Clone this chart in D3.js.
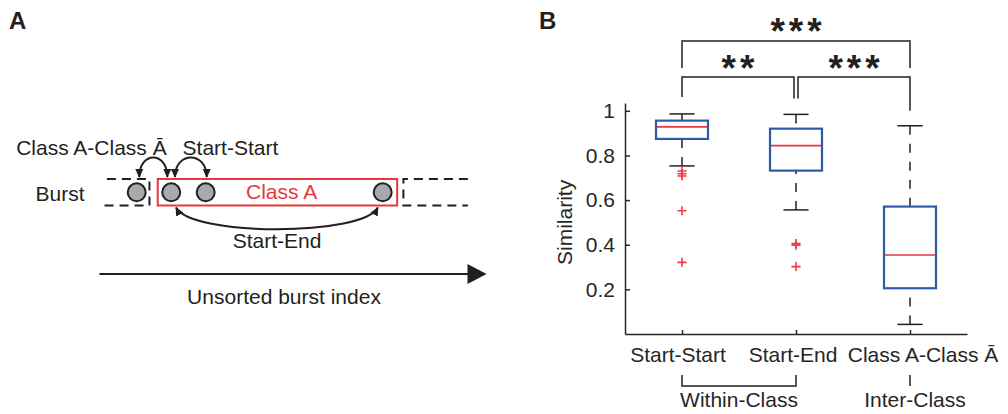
<!DOCTYPE html>
<html>
<head>
<meta charset="utf-8">
<script src="https://cdn.jsdelivr.net/npm/d3@7/dist/d3.min.js"></script>
<style>
  body { margin: 0; background: #fff; }
  svg { display: block; }
  text { font-family: "Liberation Sans", Arial, sans-serif; }
</style>
</head>
<body>
<svg id="fig" width="1008" height="414"></svg>
<script>
// ---------- Panel B data: similarity per comparison type ----------
const categories = ["Start-Start", "Start-End", "Class A-Class Ā"];
const whiskerLow = [0.753, 0.556, 0.043];
const q1 = [0.874, 0.732, 0.205];
const medians = [0.928, 0.844, 0.354];
const q3 = [0.956, 0.920, 0.571];
const whiskerHigh = [0.986, 0.984, 0.933];
const outliers = [
  [0.730, 0.718, 0.708, 0.552, 0.321],
  [0.405, 0.398, 0.302],
  []
];
const yTicks = [0.2, 0.4, 0.6, 0.8, 1];
const labelShift = [-4, -3, 13];
// significance brackets: pair of category indices, stars, bracket height (similarity units)
const comparisons = [
  { a: 0, b: 1, stars: "**", level: 1.152 },
  { a: 1, b: 2, stars: "***", level: 1.152 },
  { a: 0, b: 2, stars: "***", level: 1.313 }
];
// category groupings under the axis
const groupNames = ["Within-Class", "Inter-Class"];
const groupMembers = [[0, 1], [2]];

// ---------- Panel A schematic: bursts along an unsorted index ----------
const burstIdx = [1, 2, 3, 8.13];          // burst circles
const prevSpan = [0.02, 1.37];             // preceding (other class) segment
const classSpan = [1.61, 8.55];            // Class A segment
const nextSpan = [8.73, 10.6];             // following segment
const indexSpan = [-0.08, 11.14];          // index arrow
const arcsTop = [
  { from: 1.075, to: 1.887 },              // Class A - Class Ā
  { from: 2.11, to: 3.03 }                 // Start - Start
];
const arcBottom = { from: 2.14, to: 7.99 }; // Start - End

const ink = "#231f20";
const red = "#e8373c";
const blue = "#2c5ca8";

const svg = d3.select("#fig");

// arrow head marker
const defs = svg.append("defs");
defs.append("marker")
  .attr("id", "head").attr("viewBox", "0 0 10 10")
  .attr("refX", 9).attr("refY", 5)
  .attr("markerWidth", 9).attr("markerHeight", 9)
  .attr("markerUnits", "userSpaceOnUse")
  .attr("orient", "auto-start-reverse")
  .append("path").attr("d", "M0,0.5 L10,5 L0,9.5 Z").attr("fill", ink);

// panel letters
svg.append("text").attr("x", 9).attr("y", 29).attr("font-size", 24)
  .attr("font-weight", "bold").attr("fill", ink).text("A");
svg.append("text").attr("x", 539).attr("y", 29).attr("font-size", 24)
  .attr("font-weight", "bold").attr("fill", ink).text("B");

// ================= Panel A =================
const xA = d3.scaleLinear().domain([1, 2]).range([136.7, 171.2]);
const rowTop = 179, rowBot = 205.5, rowMid = 192.3;
const gA = svg.append("g");

// neighbouring segments (dashed, open at outer side)
gA.append("path")
  .attr("d", `M${xA(prevSpan[0]) + 4},${rowTop} H${xA(prevSpan[1])} V${rowBot} H${xA(prevSpan[0])}`)
  .attr("fill", "none").attr("stroke", ink).attr("stroke-width", 2)
  .attr("stroke-dasharray", "9,6");
gA.append("path")
  .attr("d", `M${xA(nextSpan[1])},${rowTop} H${xA(nextSpan[0])} V${rowBot} H${xA(nextSpan[1])}`)
  .attr("fill", "none").attr("stroke", ink).attr("stroke-width", 2)
  .attr("stroke-dasharray", "9,6");

// Class A segment
gA.append("rect")
  .attr("x", xA(classSpan[0])).attr("y", rowTop)
  .attr("width", xA(classSpan[1]) - xA(classSpan[0])).attr("height", rowBot - rowTop)
  .attr("fill", "none").attr("stroke", red).attr("stroke-width", 2);
gA.append("text").attr("x", xA(5.2)).attr("y", 199).attr("text-anchor", "middle")
  .attr("font-size", 21).attr("fill", red).text("Class A");

// bursts
gA.selectAll("circle.burst").data(burstIdx).join("circle")
  .attr("class", "burst")
  .attr("cx", d => xA(d)).attr("cy", rowMid).attr("r", 9)
  .attr("fill", "#a7a9ac").attr("stroke", ink).attr("stroke-width", 2);

// comparison arcs
gA.selectAll("path.arcTop").data(arcsTop).join("path")
  .attr("class", "arcTop")
  .attr("d", d => `M${xA(d.from)},${rowTop - 2} C${xA(d.from)},${rowTop - 28} ${xA(d.to)},${rowTop - 28} ${xA(d.to)},${rowTop - 2}`)
  .attr("fill", "none").attr("stroke", ink).attr("stroke-width", 2)
  .attr("marker-start", "url(#head)").attr("marker-end", "url(#head)");
gA.append("path")
  .attr("d", `M${xA(arcBottom.from)},${rowBot + 2} C${xA(arcBottom.from) + 15},${rowBot + 31} ${xA(arcBottom.to) - 15},${rowBot + 31} ${xA(arcBottom.to)},${rowBot + 2}`)
  .attr("fill", "none").attr("stroke", ink).attr("stroke-width", 2)
  .attr("marker-start", "url(#head)").attr("marker-end", "url(#head)");

// labels
gA.append("text").attr("x", xA(1.87)).attr("y", 155).attr("text-anchor", "end")
  .attr("font-size", 21).attr("fill", ink).text("Class A-Class Ā");
gA.append("text").attr("x", xA(2.33)).attr("y", 155)
  .attr("font-size", 21).attr("fill", ink).text("Start-Start");
gA.append("text").attr("x", xA(-1.93)).attr("y", 200.5)
  .attr("font-size", 21).attr("fill", ink).text("Burst");
gA.append("text").attr("x", xA(5.07)).attr("y", 248).attr("text-anchor", "middle")
  .attr("font-size", 21).attr("fill", ink).text("Start-End");

// index axis arrow
gA.append("line")
  .attr("x1", xA(indexSpan[0])).attr("x2", xA(indexSpan[1]) - 16)
  .attr("y1", 274).attr("y2", 274).attr("stroke", ink).attr("stroke-width", 2);
gA.append("path")
  .attr("d", `M${xA(indexSpan[1])},274 L${xA(indexSpan[1]) - 19},264 L${xA(indexSpan[1]) - 19},284 Z`)
  .attr("fill", ink);
gA.append("text").attr("x", xA(5.27)).attr("y", 304).attr("text-anchor", "middle")
  .attr("font-size", 21).attr("fill", ink).text("Unsorted burst index");

// ================= Panel B =================
const axisInk = "#262626";
const x = d3.scaleLinear().domain([0.5, 3.5]).range([625, 967]);
const y = d3.scaleLinear().domain([0, 1.035]).range([334, 103]);
const boxHalf = 0.228, capHalf = 0.11;
const gB = svg.append("g");

// axes
const yAxis = gB.append("g").attr("transform", `translate(${x.range()[0]},0)`)
  .call(d3.axisLeft(y).tickValues(yTicks).tickFormat(d3.format("~g"))
    .tickSize(-5).tickSizeOuter(0).tickPadding(10));
const xAxis = gB.append("g").attr("transform", `translate(0,${y.range()[0]})`)
  .call(d3.axisBottom(x).tickValues(categories.map((c, i) => i + 1))
    .tickFormat("").tickSize(-4).tickSizeOuter(0));
[yAxis, xAxis].forEach(g => {
  g.select(".domain").attr("stroke", axisInk).attr("stroke-width", 1.5);
  g.selectAll(".tick line").attr("stroke", axisInk).attr("stroke-width", 1.5);
  g.selectAll(".tick text").attr("font-size", 21).attr("fill", axisInk)
    .attr("font-family", "Liberation Sans, Arial, sans-serif");
});

gB.append("text")
  .attr("transform", `translate(572,${y(0.5)}) rotate(-90)`)
  .attr("text-anchor", "middle").attr("font-size", 21).attr("fill", axisInk)
  .text("Similarity");

// category labels
gB.selectAll("text.cat").data(categories).join("text")
  .attr("class", "cat")
  .attr("x", (d, i) => x(i + 1) + labelShift[i]).attr("y", y.range()[0] + 28)
  .attr("text-anchor", "middle").attr("font-size", 21).attr("fill", axisInk)
  .text(d => d);

// boxes
const idx = categories.map((c, i) => i);
const boxes = gB.selectAll("g.box").data(idx).join("g").attr("class", "box");
// whiskers (dashed)
boxes.append("line")
  .attr("x1", i => x(i + 1)).attr("x2", i => x(i + 1))
  .attr("y1", i => y(whiskerHigh[i])).attr("y2", i => y(q3[i]))
  .attr("stroke", ink).attr("stroke-width", 1.5).attr("stroke-dasharray", "9,9");
boxes.append("line")
  .attr("x1", i => x(i + 1)).attr("x2", i => x(i + 1))
  .attr("y1", i => y(whiskerLow[i])).attr("y2", i => y(q1[i]))
  .attr("stroke", ink).attr("stroke-width", 1.5).attr("stroke-dasharray", "9,9");
// whisker caps
[whiskerHigh, whiskerLow].forEach(arr => {
  boxes.append("line")
    .attr("x1", i => x(i + 1 - capHalf)).attr("x2", i => x(i + 1 + capHalf))
    .attr("y1", i => y(arr[i])).attr("y2", i => y(arr[i]))
    .attr("stroke", ink).attr("stroke-width", 1.5);
});
// box body
boxes.append("rect")
  .attr("x", i => x(i + 1 - boxHalf)).attr("width", i => x(i + 1 + boxHalf) - x(i + 1 - boxHalf))
  .attr("y", i => y(q3[i])).attr("height", i => y(q1[i]) - y(q3[i]))
  .attr("fill", "none").attr("stroke", blue).attr("stroke-width", 2.2);
// median
boxes.append("line")
  .attr("x1", i => x(i + 1 - boxHalf) + 1).attr("x2", i => x(i + 1 + boxHalf) - 1)
  .attr("y1", i => y(medians[i])).attr("y2", i => y(medians[i]))
  .attr("stroke", red).attr("stroke-width", 1.6);
// outliers
const outPts = outliers.flatMap((arr, i) => arr.map(v => ({ i, v })));
gB.selectAll("path.out").data(outPts).join("path")
  .attr("class", "out")
  .attr("d", d => {
    const cx = x(d.i + 1), cy = y(d.v), s = 4.5;
    return `M${cx - s},${cy} H${cx + s} M${cx},${cy - s} V${cy + s}`;
  })
  .attr("stroke", "#ee3a3e").attr("stroke-width", 1.6).attr("fill", "none");

// significance brackets
const legGap = 16;
comparisons.forEach(c => {
  const yb = y(c.level);
  const inner = c.level < 1.2;
  const offA = inner && comparisons.some(o => o !== c && o.level === c.level && o.b === c.a) ? 2 : 0;
  const offB = inner && comparisons.some(o => o !== c && o.level === c.level && o.a === c.b) ? -2 : 0;
  const xa = x(c.a + 1) + offA, xb = x(c.b + 1) + offB;
  let ya, ybEnd;
  if (inner) {
    ya = y(whiskerHigh[c.a]) - legGap - (c.a === 0 ? 1 : 0);
    ybEnd = y(whiskerHigh[c.b]) - legGap + (c.b === 1 ? 0 : 1);
  } else {
    ya = ybEnd = y(1.152) - 9;
  }
  gB.append("path")
    .attr("d", `M${xa},${ya} V${yb} H${xb} V${ybEnd}`)
    .attr("fill", "none").attr("stroke", ink).attr("stroke-width", 1.5);
  gB.append("text")
    .attr("x", (xa + xb) / 2 + 2).attr("y", yb + (inner ? 4 : 3))
    .attr("text-anchor", "middle").attr("font-size", 37).attr("font-weight", "bold")
    .attr("fill", ink).attr("letter-spacing", 4)
    .text(c.stars);
});

// groupings beneath categories
groupMembers.forEach((m, gi) => {
  const x0 = x(m[0] + 1), x1 = x(m[m.length - 1] + 1);
  const top = y.range()[0] + 41, bar = y.range()[0] + 52;
  if (m.length > 1) {
    gB.append("path").attr("d", `M${x0},${top} V${bar} H${x1} V${top}`)
      .attr("fill", "none").attr("stroke", ink).attr("stroke-width", 1.5);
  } else {
    gB.append("line").attr("x1", x0).attr("x2", x0).attr("y1", top).attr("y2", bar)
      .attr("stroke", ink).attr("stroke-width", 1.5);
  }
  gB.append("text").attr("x", (x0 + x1) / 2 + (m.length > 1 ? 0 : 5)).attr("y", y.range()[0] + 73)
    .attr("text-anchor", "middle").attr("font-size", 21).attr("fill", axisInk)
    .text(groupNames[gi]);
});
</script>
</body>
</html>
